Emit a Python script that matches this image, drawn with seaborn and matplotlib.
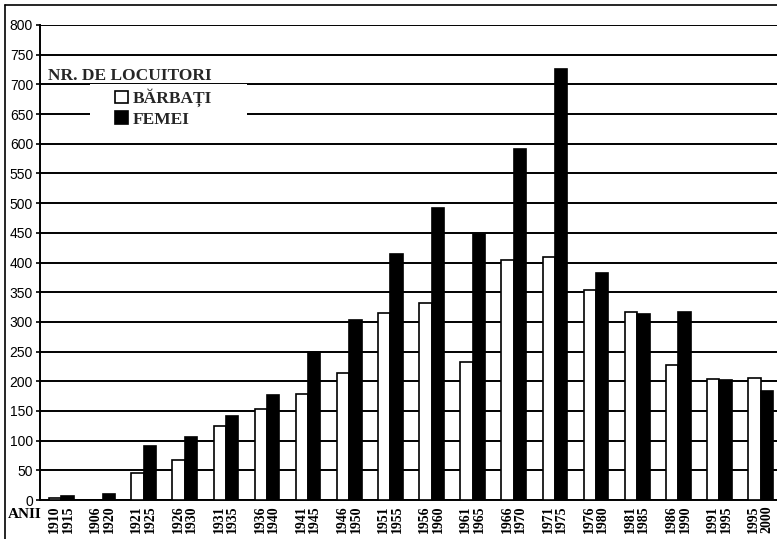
import matplotlib
matplotlib.use("Agg")
import matplotlib.pyplot as plt
from matplotlib.lines import Line2D
from matplotlib.patches import Rectangle
import seaborn as sns
import pandas as pd

periods = ["1910\n1915", "1906\n1920", "1921\n1925", "1926\n1930", "1931\n1935",
           "1936\n1940", "1941\n1945", "1946\n1950", "1951\n1955", "1956\n1960",
           "1961\n1965", "1966\n1970", "1971\n1975", "1976\n1980", "1981\n1985",
           "1986\n1990", "1991\n1995", "1995\n2000"]
barbati = [3, 0, 46, 68, 125, 154, 179, 214, 315, 331, 233, 405, 410, 353, 316, 227, 203, 205]
femei = [6, 10, 91, 106, 142, 177, 250, 304, 415, 492, 448, 591, 726, 382, 313, 317, 202, 184]
series_names = ["BĂRBAȚI", "FEMEI"]
yticks = list(range(0, 801, 50))

df = pd.DataFrame({
    "perioada": periods * 2,
    "nr": barbati + femei,
    "sex": [series_names[0]] * len(periods) + [series_names[1]] * len(periods),
})

sns.set_theme(style="white")
plt.rcParams["font.family"] = ["Liberation Sans", "DejaVu Sans"]
serif = ["Liberation Serif", "DejaVu Serif"]

W, H = 777, 539
fig = plt.figure(figsize=(W / 100, H / 100), dpi=100)
ax = fig.add_axes([40 / W, (H - 500) / H, (W - 40) / W, 475 / H])

sns.barplot(data=df, x="perioada", y="nr", hue="sex", order=periods,
            hue_order=series_names, palette={series_names[0]: "white", series_names[1]: "black"},
            edgecolor="black", linewidth=1.2, width=0.6, gap=0, ax=ax, zorder=3)

ax.set_ylim(0, 800)
ax.set_xlim(-0.52, 17.4)
ax.set_yticks(yticks)
ax.set_yticklabels([str(v) for v in yticks], fontsize=10, color="black")
ax.set_axisbelow(True)
ax.grid(axis="y", color="black", linewidth=1.4)
ax.grid(axis="x", visible=False)
ax.tick_params(axis="y", length=3, width=1.2, color="black", pad=2, left=True)
ax.tick_params(axis="x", length=0, pad=4)
for lab in ax.get_xticklabels():
    lab.set_rotation(90)
    lab.set_fontfamily(serif)
    lab.set_fontweight("bold")
    lab.set_fontsize(10)
    lab.set_linespacing(1.05)
    lab.set_ha("center")
    lab.set_va("top")
    lab.set_color("black")
ax.set_xlabel("")
ax.set_ylabel("")
for s in ["top", "right"]:
    ax.spines[s].set_visible(False)
for s in ["left", "bottom"]:
    ax.spines[s].set_color("black")
    ax.spines[s].set_linewidth(1.4)

# white backing behind legend
ax.add_patch(Rectangle((50 / 737, (500 - 136) / 475), 157 / 737, 52 / 475,
                       transform=ax.transAxes, facecolor="white", edgecolor="none", zorder=2))

handles, labels = ax.get_legend_handles_labels()
leg = ax.legend(handles, labels, title="NR. DE LOCUITORI", loc="upper right",
                bbox_to_anchor=((212 - 40) / 737, (500 - 68) / 475), frameon=False,
                alignment="right", handlelength=0.72, handleheight=0.72, handletextpad=0.3,
                labelspacing=0.25, borderpad=0, borderaxespad=0,
                prop={"family": serif, "weight": "bold", "size": 12.5})
leg.get_title().set_fontfamily(serif)
leg.get_title().set_fontweight("bold")
leg.get_title().set_fontsize(12.5)
leg.set_zorder(5)

fig.text(8 / W, (H - 514) / H, "ANII", fontfamily=serif, fontweight="bold", fontsize=11,
         ha="left", va="center", color="black")

# outer frame of the scanned figure
fig.add_artist(Line2D([5 / W, 5 / W], [0, (H - 5) / H], color="black", linewidth=1.2))
fig.add_artist(Line2D([5 / W, 1], [(H - 5) / H, (H - 5) / H], color="black", linewidth=1.2))

fig.savefig("out.png", dpi=100, facecolor="white")
